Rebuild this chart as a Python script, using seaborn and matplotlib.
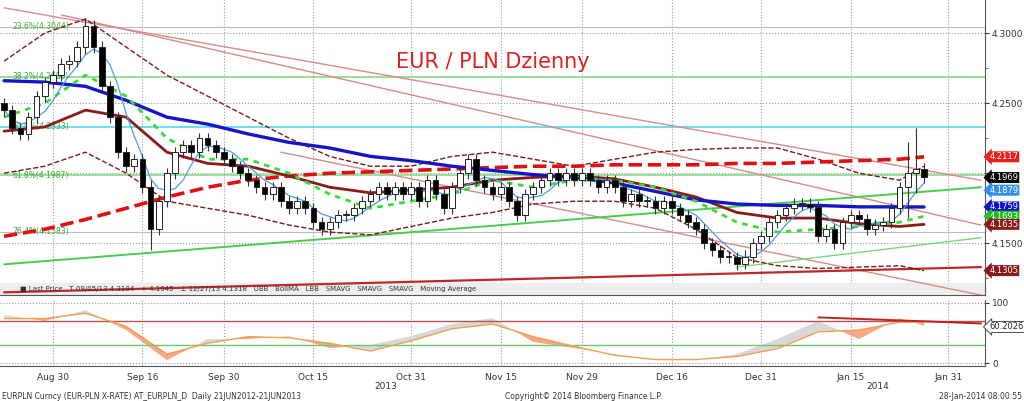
# EUR/PLN daily candlestick chart, Bloomberg style
import numpy as np
import pandas as pd
import seaborn as sns
from matplotlib import pyplot as plt
from matplotlib.ticker import FixedLocator, FuncFormatter

sns.set_style("white")
plt.rcParams['font.family'] = ['DejaVu Sans']

# ---- data ----
dates = pd.bdate_range('2013-08-22', '2014-01-28')
closes = [
    4.245, 4.232,
    4.228, 4.240, 4.255, 4.265, 4.270,
    4.278, 4.280, 4.290, 4.305, 4.290,
    4.262, 4.240, 4.215, 4.205, 4.210,
    4.190, 4.160, 4.180, 4.200, 4.215,
    4.220, 4.215, 4.225, 4.220, 4.215,
    4.210, 4.205, 4.200, 4.195, 4.190,
    4.185, 4.190, 4.180, 4.175, 4.180,
    4.175, 4.165, 4.160, 4.165, 4.170,
    4.170, 4.175, 4.180, 4.185, 4.190,
    4.185, 4.190, 4.185, 4.190, 4.180,
    4.195, 4.185, 4.175, 4.190, 4.200,
    4.210, 4.195, 4.190, 4.185, 4.190,
    4.180, 4.170, 4.185, 4.190, 4.195,
    4.200, 4.195, 4.200, 4.195, 4.200,
    4.195, 4.190, 4.195, 4.190, 4.180,
    4.185, 4.180, 4.180, 4.175, 4.180,
    4.175, 4.170, 4.165, 4.160, 4.150,
    4.145, 4.140, 4.140, 4.135, 4.140,
    4.150, 4.155, 4.165, 4.170, 4.175,
    4.178, 4.178, 4.176, 4.155, 4.160,
    4.150, 4.165, 4.170, 4.167, 4.160,
    4.163, 4.165, 4.175, 4.190, 4.200,
    4.203, 4.197,
]
first_open = 4.250
# notable extremes: index -> (high, low)
extremes = {10: (4.3104, 4.285), 18: (4.195, 4.145), 91: (4.145, 4.1318),
            111: (4.222, 4.168), 112: (4.232, 4.186)}

# moving averages / bands sampled every 5 trading days (plus last day)
sample_idx = list(range(0, 111, 5)) + [113]
smavg_blue = [4.266, 4.265, 4.262, 4.252, 4.240, 4.235, 4.228, 4.222, 4.218, 4.212,
              4.209, 4.205, 4.202, 4.199, 4.197, 4.193, 4.187, 4.181, 4.178, 4.177,
              4.177, 4.176, 4.176, 4.1759]
boll_ma = [4.230, 4.233, 4.245, 4.240, 4.215, 4.207, 4.205, 4.198, 4.190, 4.186,
           4.188, 4.190, 4.195, 4.197, 4.198, 4.196, 4.190, 4.183, 4.172, 4.168,
           4.168, 4.164, 4.162, 4.1635]
ma_long = [4.155, 4.160, 4.167, 4.175, 4.183, 4.190, 4.195, 4.198, 4.200, 4.201,
           4.202, 4.203, 4.204, 4.205, 4.205, 4.206, 4.206, 4.206, 4.207, 4.207,
           4.208, 4.209, 4.210, 4.2117]
smavg_green = [4.240, 4.250, 4.270, 4.255, 4.225, 4.210, 4.210, 4.200, 4.185, 4.175,
               4.180, 4.185, 4.195, 4.190, 4.195, 4.195, 4.190, 4.180, 4.165, 4.158,
               4.160, 4.162, 4.165, 4.1693]
upper_band = [4.280, 4.300, 4.310, 4.290, 4.270, 4.255, 4.240, 4.225, 4.212, 4.205,
              4.205, 4.212, 4.215, 4.210, 4.205, 4.210, 4.215, 4.217, 4.218, 4.218,
              4.210, 4.200, 4.195, 4.205]
lower_band = [4.200, 4.205, 4.215, 4.200, 4.180, 4.175, 4.170, 4.163, 4.158, 4.156,
              4.162, 4.168, 4.172, 4.178, 4.180, 4.180, 4.175, 4.160, 4.140, 4.134,
              4.132, 4.133, 4.134, 4.1305]

# oscillator (lower panel), same sample points
osc_slow = [74, 74, 83, 61, 15, 33, 44, 42, 33, 20, 37, 57, 65, 44, 28, 13, 6, 6,
            11, 24, 52, 55, 68, 68]
osc_fast = [80, 70, 88, 55, 5, 40, 40, 45, 25, 30, 45, 65, 75, 35, 25, 15, 5, 5,
            15, 40, 70, 40, 75, 62]

# horizontal levels: (price, colour, label)
levels = [(4.3044, '#bbbbbb', '23.6%(4.3044)'),
          (4.2688, '#7cd67c', '38.2%(4.2688)'),
          (4.2333, '#40d8e8', '50.0%(4.2333)'),
          (4.1987, '#7cd67c', '61.8%(4.1987)'),
          (4.1583, '#bbbbbb', '76.4%(4.1583)')]

# trend lines: (x0, y0, x1, y1, colour, width)
trend_lines = [(0, 4.318, 120, 4.195, '#d98a8a', 1.0),
               (7, 4.313, 120, 4.163, '#d98a8a', 1.0),
               (34, 4.215, 120, 4.113, '#d98a8a', 1.0),
               (0, 4.115, 120, 4.133, '#c0272d', 1.6),
               (0, 4.135, 120, 4.190, '#4ccc4c', 1.4),
               (90, 4.133, 120, 4.154, '#7cd67c', 1.0)]

tick_dates = ['2013-08-30', '2013-09-16', '2013-09-30', '2013-10-15', '2013-10-31',
              '2013-11-15', '2013-11-29', '2013-12-16', '2013-12-31', '2014-01-15',
              '2014-01-31']
tick_labels = ['Aug 30', 'Sep 16', 'Sep 30', 'Oct 15', 'Oct 31', 'Nov 15',
               'Nov 29', 'Dec 16', 'Dec 31', 'Jan 15', 'Jan 31']

# right-hand value tags: (price, box colour)
tags = [(4.2117, '#e8201e'), (4.1969, 'black'), (4.1879, '#2f8fe8'),
        (4.1759, '#1010d0'), (4.1693, '#20c020'), (4.1635, '#8b1a1a'),
        (4.1305, '#8b1a1a')]

# ---- figure ----
fig = plt.figure(figsize=(10.24, 4.01), dpi=100)
ax = fig.add_axes([0.0, 0.264, 0.962, 0.736])
ax2 = fig.add_axes([0.0, 0.087, 0.962, 0.165])

n = len(closes)
x = np.arange(n)
opens = [first_open] + closes[:-1]
all_days = pd.bdate_range('2013-08-22', '2014-02-14')
tick_pos = [all_days.searchsorted(pd.Timestamp(d)) for d in tick_dates]

for a in (ax, ax2):
    a.xaxis.set_major_locator(FixedLocator(tick_pos))
    a.grid(axis='x', color='#999999', ls=':', lw=0.8)
    a.set_xlim(-0.5, n + 6.5)
    a.yaxis.tick_right()
    for s in ('left', 'top'):
        a.spines[s].set_visible(False)
    a.spines['right'].set_color('#555555')
    a.spines['bottom'].set_color('#555555')
    a.tick_params(axis='both', labelsize=6.5, colors='#333333', length=3, pad=2)

# levels
for price, col, lab in levels:
    ax.axhline(price, color=col, lw=1.1 if col != '#bbbbbb' else 0.8)
    ax.text(1, price, lab, fontsize=5.5, color='#3aa83a', va='center')

for x0, y0, x1, y1, col, lw in trend_lines:
    ax.plot([x0, x1], [y0, y1], color=col, lw=lw, zorder=2)

# indicator lines
ind = pd.DataFrame({'x': sample_idx, 'blue': smavg_blue, 'boll': boll_ma,
                    'long': ma_long, 'green': smavg_green,
                    'ub': upper_band, 'lb': lower_band})
sns.lineplot(data=ind, x='x', y='ub', ax=ax, color='#7a1a1a', lw=1.0, ls='--', zorder=3)
sns.lineplot(data=ind, x='x', y='lb', ax=ax, color='#7a1a1a', lw=1.0, ls='--', zorder=3)
sns.lineplot(data=ind, x='x', y='long', ax=ax, color='#e01010', lw=2.6, ls='--', zorder=3)
sns.lineplot(data=ind, x='x', y='boll', ax=ax, color='#8b1a1a', lw=2.0, zorder=3)
sns.lineplot(data=ind, x='x', y='blue', ax=ax, color='#1515c8', lw=2.4, zorder=3)
sns.lineplot(data=ind, x='x', y='green', ax=ax, color='#33dd33', lw=2.0, ls=(0, (2, 2)), zorder=3)
short_ma = pd.Series(closes).rolling(5, min_periods=1).mean()
ax.plot(x, short_ma, color='#4aa0e0', lw=0.9, zorder=4)

# candles
for i in range(n):
    o, c = opens[i], closes[i]
    hi, lo = extremes.get(i, (max(o, c) + 0.004, min(o, c) - 0.004))
    ax.vlines(i, lo, hi, color='#333333', lw=0.8, zorder=5)
    face = 'white' if c >= o else 'black'
    body = max(abs(c - o), 0.0008)
    ax.bar(i, body, bottom=min(o, c), width=0.7, color=face,
           edgecolor='#222222', lw=0.7, zorder=6)

ax.set_ylim(4.113, 4.3236)
ax.yaxis.set_major_locator(FixedLocator([4.15, 4.20, 4.25, 4.30]))
ax.yaxis.set_major_formatter(FuncFormatter(lambda v, p: '' if abs(v - 4.2) < 1e-6 else '%.4f' % v))
ax.yaxis.set_minor_locator(FixedLocator([4.125, 4.175, 4.225, 4.275]))
ax.tick_params(axis='y', which='minor', length=2, colors='#555555')
ax.grid(axis='y', color='#999999', ls=':', lw=0.8)
ax.set_xticklabels([])
ax.set_xlabel('')
ax.set_ylabel('')

ax.text(0.5, 0.79, 'EUR / PLN Dzienny', transform=ax.transAxes, color='#e02020',
        fontsize=15, ha='center', va='center')

for price, col in tags:
    ax.annotate('%.4f' % price, xy=(1.0, price), xycoords=('axes fraction', 'data'),
                xytext=(3, 0), textcoords='offset points', fontsize=6, color='white',
                va='center', ha='left', annotation_clip=False,
                bbox=dict(boxstyle='larrow,pad=0.12', fc=col, ec='none'))

# legend strip
ax.axhspan(4.113, 4.122, color='#eeeeee', zorder=1)
ax.text(2, 4.1175, '■ Last Price   T 09/05/13 4.3104   + 4.1945   ⊥ 12/27/13 4.1318'
        '   UBB   BollMA   LBB   SMAVG   SMAVG   SMAVG   Moving Average',
        fontsize=5, color='#333333', va='center', zorder=7)

# oscillator panel
osc = pd.DataFrame({'x': sample_idx, 'slow': osc_slow, 'fast': osc_fast})
ax2.axhline(70, color='#c05050', lw=1.0)
ax2.axhline(30, color='#66cc66', lw=1.0)
ax2.fill_between(osc['x'], osc['slow'], osc['fast'], where=osc['fast'] >= osc['slow'],
                 color='#d8d8d8', interpolate=True, lw=0)
ax2.fill_between(osc['x'], osc['slow'], osc['fast'], where=osc['fast'] < osc['slow'],
                 color='#f8a888', interpolate=True, lw=0)
sns.lineplot(data=osc, x='x', y='slow', ax=ax2, color='#f0a050', lw=1.0)
ax2.plot([100, 120], [76, 66], color='#c02020', lw=1.4)
ax2.set_ylim(-5, 105)
ax2.yaxis.set_major_locator(FixedLocator([0, 100]))
ax2.grid(axis='y', color='#999999', ls=':', lw=0.8)
ax2.set_xticklabels(tick_labels)
ax2.set_xlabel('')
ax2.set_ylabel('')
ax2.annotate('60.2026', xy=(1.0, 60.2), xycoords=('axes fraction', 'data'),
             xytext=(3, 0), textcoords='offset points', fontsize=6, va='center',
             annotation_clip=False,
             bbox=dict(boxstyle='larrow,pad=0.12', fc='white', ec='#333333', lw=0.6))

fig.text(0.377, 0.037, '2013', fontsize=6.5, ha='center', va='center', color='#333333')
fig.text(0.857, 0.037, '2014', fontsize=6.5, ha='center', va='center', color='#333333')
fig.text(0.002, 0.012, 'EURPLN Curncy (EUR-PLN X-RATE) AT_EURPLN_D  Daily 21JUN2012-21JUN2013',
         fontsize=5.5, va='center', color='#333333')
fig.text(0.57, 0.012, 'Copyright© 2014 Bloomberg Finance L.P.', fontsize=5.5,
         ha='center', va='center', color='#333333')
fig.text(0.998, 0.012, '28-Jan-2014 08:00:55', fontsize=5.5, ha='right', va='center',
         color='#333333')

fig.savefig('out.png', dpi=100)
